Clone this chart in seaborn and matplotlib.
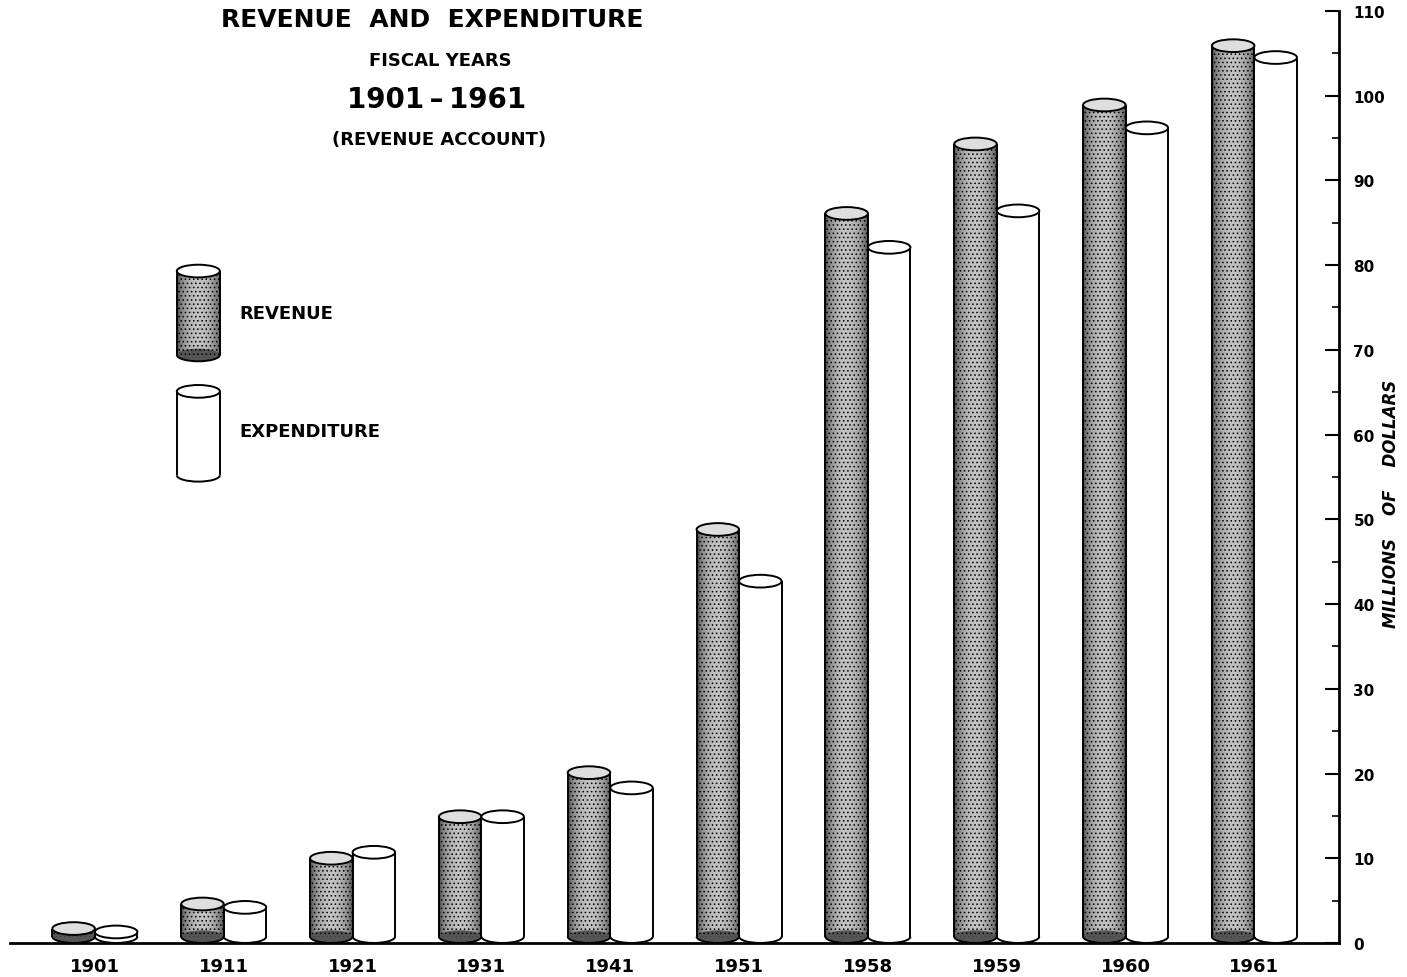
import numpy as np
import pandas as pd
import matplotlib
matplotlib.use("Agg")
import matplotlib.pyplot as plt
from matplotlib.patches import Ellipse, Arc, Rectangle
from matplotlib.ticker import MultipleLocator
import seaborn as sns

# values (millions of dollars)
years = ["1901", "1911", "1921", "1931", "1941", "1951", "1958", "1959", "1960", "1961"]
revenue = [1.7, 4.6, 10.0, 14.9, 20.1, 48.8, 86.1, 94.3, 98.9, 105.9]
expenditure = [1.3, 4.2, 10.7, 14.9, 18.3, 42.7, 82.1, 86.4, 96.2, 104.5]
y_ticks = [0, 10, 20, 30, 40, 50, 60, 70, 80, 90, 100, 110]
y_labels = ["0", "10", "20", "30", "40", "50", "60", "70", "80", "90", "100", "110"]

df = pd.DataFrame({
    "year": years * 2,
    "value": revenue + expenditure,
    "series": ["Revenue"] * len(years) + ["Expenditure"] * len(years),
})

sns.set_theme(style="white")
plt.rcParams["font.family"] = ["DejaVu Sans"]
plt.rcParams["hatch.linewidth"] = 0.6
for k in ["text.color", "axes.labelcolor", "xtick.color", "ytick.color"]:
    plt.rcParams[k] = "black"

EH = 1.5  # ellipse height of the cylinder ends, in data units
LW = 1.4
shade = 0.26 + 0.50 * np.sin(np.pi * np.linspace(0, 1, 80)) ** 0.6
grad = shade[np.newaxis, :]


def shade_body(ax, x0, x1, y0, y1, clip):
    im = ax.imshow(grad, cmap="gray", vmin=0, vmax=1, aspect="auto",
                   extent=[x0, x1, y0, y1], zorder=0.9, interpolation="bilinear")
    im.set_clip_path(clip)


def outline(ax, cx, w, y0, y1, top_color, body_color):
    # sides
    ax.vlines([cx - w / 2, cx + w / 2], y0, y1, color="black", lw=LW, zorder=2.8)
    # bottom half-ellipse
    ax.add_patch(Ellipse((cx, y0), w, EH, facecolor=body_color, edgecolor="none", zorder=0.95))
    ax.add_patch(Arc((cx, y0), w, EH, theta1=180, theta2=360, color="black", lw=LW, zorder=2.8))
    # top ellipse
    ax.add_patch(Ellipse((cx, y1), w, EH, facecolor=top_color, edgecolor="black", lw=LW, zorder=3))


fig = plt.figure(figsize=(14.07, 9.78), dpi=100)
ax = fig.add_axes([0.007, 0.0348, 0.945, 0.953])

sns.barplot(data=df, x="year", y="value", hue="series", order=years,
            hue_order=["Revenue", "Expenditure"],
            palette={"Revenue": "#6e6e6e", "Expenditure": "white"},
            width=0.66, gap=0, errorbar=None, edgecolor="black", linewidth=0,
            legend=False, ax=ax)

for i, cont in enumerate(ax.containers):
    for bar in cont:
        x0 = bar.get_x()
        w = bar.get_width()
        h = bar.get_y() + bar.get_height()
        bar.set_y(EH / 2)
        bar.set_height(h - EH / 2)
        bar.set_linewidth(0)
        if i == 0:
            bar.set_facecolor("none")
            bar.set_hatch("....")
            shade_body(ax, x0, x0 + w, EH / 2, h, bar)
            outline(ax, x0 + w / 2, w, EH / 2, h, "#dedede", "#555555")
        else:
            outline(ax, x0 + w / 2, w, EH / 2, h, "white", "white")

# legend cylinders
lx0, lx1 = 0.636, 0.970
for (yb, yt), name, ty in [((69.4, 79.3), "REVENUE", 74.3), ((55.2, 65.1), "EXPENDITURE", 60.4)]:
    if name == "REVENUE":
        body = Rectangle((lx0, yb), lx1 - lx0, yt - yb, facecolor="none", edgecolor="black",
                         lw=0, hatch="....", zorder=1)
        ax.add_patch(body)
        shade_body(ax, lx0, lx1, yb, yt, body)
        outline(ax, (lx0 + lx1) / 2, lx1 - lx0, yb, yt, "white", "#555555")
    else:
        ax.add_patch(Rectangle((lx0, yb), lx1 - lx0, yt - yb, facecolor="white",
                               edgecolor="none", lw=0, zorder=1))
        outline(ax, (lx0 + lx1) / 2, lx1 - lx0, yb, yt, "white", "white")
    ax.text(1.12, ty, name, fontsize=13, fontweight="bold", va="center", ha="left")

ax.set_xlim(-0.66, 9.66)
ax.set_ylim(0, 110)

for s in ["left", "top"]:
    ax.spines[s].set_visible(False)
for s in ["right", "bottom"]:
    ax.spines[s].set_linewidth(2)
    ax.spines[s].set_color("black")
    ax.spines[s].set_zorder(4)

ax.yaxis.tick_right()
ax.set_yticks(y_ticks)
ax.set_yticklabels(y_labels, fontweight="bold")
ax.yaxis.set_minor_locator(MultipleLocator(5))
ax.tick_params(axis="y", which="major", direction="in", length=10, width=1.5,
               labelsize=11, pad=10, right=True)
ax.tick_params(axis="y", which="minor", direction="in", length=5, width=1.2, right=True)
ax.tick_params(axis="x", length=0, labelsize=13, pad=10)
for lab in ax.get_xticklabels():
    lab.set_fontweight("bold")
ax.set_xlabel("")
ax.yaxis.set_label_position("right")
ax.set_ylabel("MILLIONS    OF    DOLLARS", fontsize=12, fontweight="bold", fontstyle="italic")
ax.yaxis.set_label_coords(1.032, 0.472)
ax.grid(False)

fig.text(0.307, 0.9796, "REVENUE  AND  EXPENDITURE", ha="center", va="center",
         fontsize=18, fontweight="bold")
fig.text(0.313, 0.9376, "FISCAL YEARS", ha="center", va="center", fontsize=13, fontweight="bold")
fig.text(0.310, 0.8978, "1901\u2009\u2013\u20091961", ha="center", va="center", fontsize=20, fontweight="bold")
fig.text(0.312, 0.857, "(REVENUE ACCOUNT)", ha="center", va="center", fontsize=13, fontweight="bold")

fig.savefig("out.png", dpi=100, facecolor="white")
